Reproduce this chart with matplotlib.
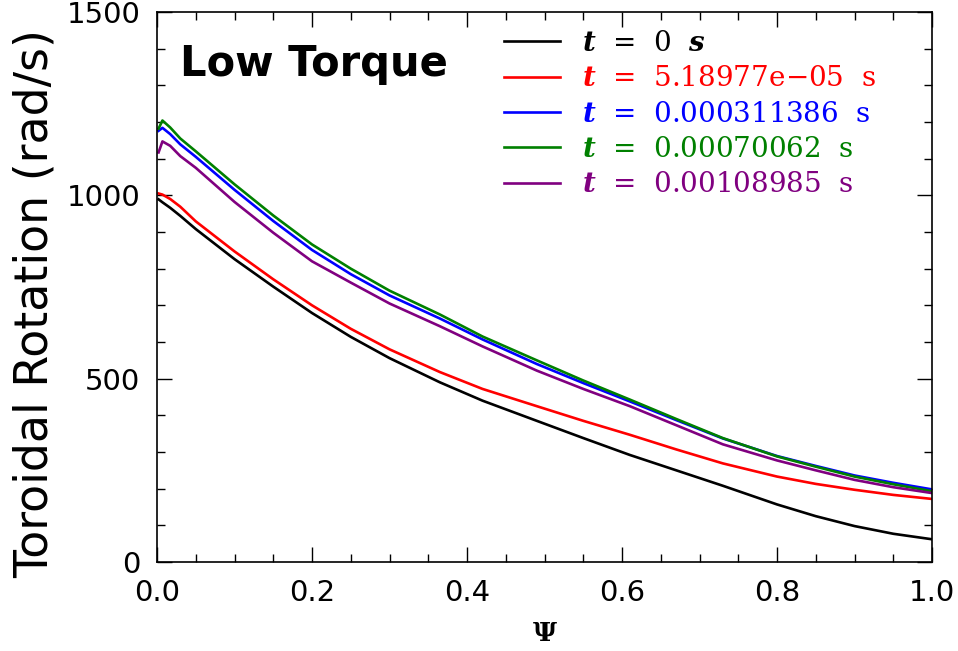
import numpy as np
import matplotlib
matplotlib.use("Agg")
import matplotlib.pyplot as plt
from matplotlib.ticker import MultipleLocator, FormatStrFormatter

psi = [0.002, 0.007, 0.017, 0.03, 0.05, 0.1, 0.15, 0.2, 0.25, 0.3, 0.365,
       0.42, 0.49, 0.55, 0.61, 0.67, 0.73, 0.8, 0.85, 0.9, 0.95, 1.0]

# toroidal rotation (rad/s) for each time slice
rot_t0 = [989, 981, 966, 944, 908, 826, 751, 679, 614, 556, 490,
          440, 385, 338, 292, 250, 208, 157, 125, 98, 77, 62]
rot_t1 = [1005, 1002, 990, 969, 929, 847, 771, 700, 636, 580, 518,
          472, 425, 385, 347, 307, 269, 233, 213, 197, 183, 172]
rot_t2 = [1176, 1184, 1167, 1139, 1105, 1015, 930, 851, 785, 727, 664,
          607, 540, 488, 438, 387, 337, 289, 262, 236, 216, 198]
rot_t3 = [1182, 1204, 1185, 1155, 1120, 1030, 945, 866, 800, 740, 675,
          615, 550, 495, 443, 390, 338, 288, 260, 233, 212, 193]
rot_t4 = [1117, 1147, 1135, 1107, 1075, 982, 898, 820, 762, 705, 643,
          588, 522, 472, 425, 373, 321, 277, 250, 224, 204, 188]

profiles = [rot_t0, rot_t1, rot_t2, rot_t3, rot_t4]
colors = ['black', 'red', 'blue', 'green', 'purple']
labels = [r'$t$  =  0  $s$',
          r'$t$  =  5.18977e$-$05  s',
          r'$t$  =  0.000311386  s',
          r'$t$  =  0.00070062  s',
          r'$t$  =  0.00108985  s']

plt.rcParams['mathtext.fontset'] = 'custom'
plt.rcParams['mathtext.it'] = 'DejaVu Serif:italic:bold'
plt.rcParams['mathtext.rm'] = 'DejaVu Serif'

fig = plt.figure(figsize=(9.58, 6.51), dpi=100)
ax = fig.add_axes([0.1639, 0.1367, 0.9729 - 0.1639, 0.9816 - 0.1367])

for prof, col, lab in zip(profiles, colors, labels):
    ax.plot(psi, prof, color=col, lw=1.9, label=lab)

ax.set_xlim(0, 1)
ax.set_ylim(0, 1500)
ax.xaxis.set_major_locator(MultipleLocator(0.2))
ax.xaxis.set_minor_locator(MultipleLocator(0.05))
ax.yaxis.set_major_locator(MultipleLocator(500))
ax.yaxis.set_minor_locator(MultipleLocator(100))
ax.xaxis.set_major_formatter(FormatStrFormatter('%.1f'))
ax.tick_params(which='both', direction='in', top=True, right=True, width=1)
ax.tick_params(which='major', length=11, labelsize=21, pad=12)
ax.tick_params(which='minor', length=5.5)
for sp in ax.spines.values():
    sp.set_linewidth(1.2)

ax.set_ylabel('Toroidal Rotation (rad/s)', fontsize=33)
ax.yaxis.set_label_coords(-0.128, 0.47)
ax.set_xlabel('Ψ', fontsize=19, fontweight='bold', family='DejaVu Serif',
              labelpad=10)

ax.text(0.03, 0.905, 'Low Torque', transform=ax.transAxes, fontsize=30,
        fontweight='bold', va='center', ha='left')

leg = ax.legend(loc='upper left', bbox_to_anchor=(0.425, 1.0), frameon=False,
                prop={'family': 'DejaVu Serif', 'size': 20},
                handlelength=2.0, handletextpad=0.8,
                labelspacing=0.3, borderaxespad=0.25)
for txt, col in zip(leg.get_texts(), colors):
    txt.set_color(col)

fig.savefig('out.png', dpi=100)
